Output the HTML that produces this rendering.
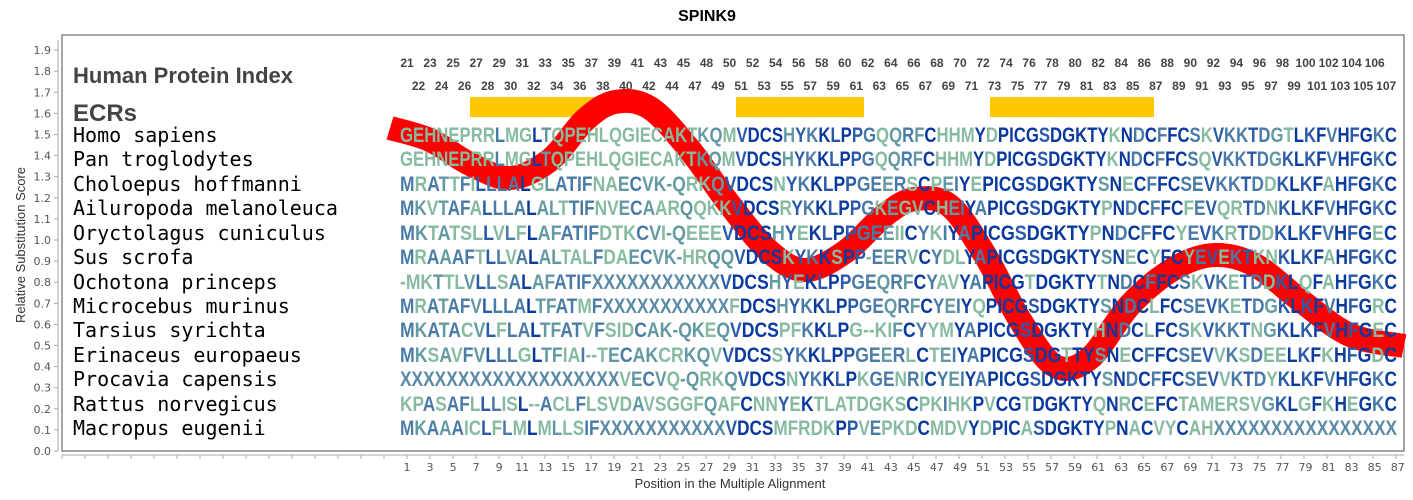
<!DOCTYPE html>
<html><head><meta charset="utf-8"><style>
body{margin:0;background:#fff}
svg{display:block}
.seq{font-family:"Liberation Sans",sans-serif;font-weight:bold;font-size:21px}
.sp{font-family:"DejaVu Sans Mono","Liberation Mono",monospace;font-size:20px;fill:#000}
.num{font-family:"Liberation Sans",sans-serif;font-weight:bold;font-size:12px;fill:#444}
.tk{font-family:"DejaVu Sans","Liberation Sans",sans-serif;font-size:11px;fill:#555}
</style></head><body>
<svg id="s" width="1413" height="500" xmlns="http://www.w3.org/2000/svg">
<rect width="1413" height="500" fill="#fff"/>
<text x="707" y="21" text-anchor="middle" font-family="Liberation Sans,sans-serif" font-weight="bold" font-size="16">SPINK9</text>
<rect x="62" y="35" width="1342" height="416" fill="#fff" stroke="#888" stroke-width="1.5"/>
<line x1="58" y1="40" x2="58" y2="451" stroke="#aaa"/>
<line x1="62" y1="455" x2="1404" y2="455" stroke="#aaa"/>
<g id="yt"></g><g id="xt"></g>
<text x="730" y="488" text-anchor="middle" font-family="Liberation Sans,sans-serif" font-size="13" fill="#333">Position in the Multiple Alignment</text>
<text transform="translate(25,245) rotate(-90)" text-anchor="middle" font-family="Liberation Sans,sans-serif" font-size="13" fill="#333">Relative Substitution Score</text>
<text x="73" y="83" font-family="Liberation Sans,sans-serif" font-weight="bold" font-size="22" fill="#444">Human Protein Index</text>
<text x="73" y="121" font-family="Liberation Sans,sans-serif" font-weight="bold" font-size="24" fill="#444">ECRs</text>
<rect x="470" y="97" width="128" height="20" fill="#ffc800"/>
<rect x="736" y="97" width="128" height="20" fill="#ffc800"/>
<rect x="990" y="97" width="164" height="20" fill="#ffc800"/>
<g id="nums"></g>
<path id="wave" fill="none" stroke="#f00" stroke-width="24" stroke-linecap="butt"/>
<g class="sp">
<text x="73" y="142">Homo sapiens</text>
<text x="73" y="166">Pan troglodytes</text>
<text x="73" y="191">Choloepus hoffmanni</text>
<text x="73" y="215">Ailuropoda melanoleuca</text>
<text x="73" y="240">Oryctolagus cuniculus</text>
<text x="73" y="264">Sus scrofa</text>
<text x="73" y="289">Ochotona princeps</text>
<text x="73" y="313">Microcebus murinus</text>
<text x="73" y="337">Tarsius syrichta</text>
<text x="73" y="362">Erinaceus europaeus</text>
<text x="73" y="386">Procavia capensis</text>
<text x="73" y="411">Rattus norvegicus</text>
<text x="73" y="435">Macropus eugenii</text>
</g>
<g id="seqs" class="seq">
<text x="400" y="142">GEHNEPRRLMGLTQPEHLQGIECAKTKQMVDCSHYKKLPPGQQRFCHHMYDPICGSDGKTYKNDCFFCSKVKKTDGTLKFVHFGKC</text>
<text x="400" y="166">GEHNEPRRLMGLTQPEHLQGIECAKTKQMVDCSHYKKLPPGQQRFCHHMYDPICGSDGKTYKNDCFFCSQVKKTDGKLKFVHFGKC</text>
<text x="400" y="191">MRATTFILLLALGLATIFNAECVK-QRKQVDCSNYKKLPPGEERSCPEIYEPICGSDGKTYSNECFFCSEVKKTDDKLKFAHFGKC</text>
<text x="400" y="215">MKVTAFALLLALALTTIFNVECAARQQKKVDCSRYKKLPPGKEGVCHEIYAPICGSDGKTYPNDCFFCFEVQRTDNKLKFVHFGKC</text>
<text x="400" y="240">MKTATSLLVLFLAFATIFDTKCVI-QEEEVDCSHYEKLPPGEEIICYKIYAPICGSDGKTYPNDCFFCYEVKRTDDKLKFVHFGEC</text>
<text x="400" y="264">MRAAAFTLLVALALTALFDAECVK-HRQQVDCSKYKKSPP-EERVCYDLYAPICGSDGKTYSNECYFCYEVEKTKNKLKFAHFGKC</text>
<text x="400" y="289">-MKTTLVLLSALAFATIFXXXXXXXXXXXVDCSHYEKLPPGEQRFCYAVYAPICGTDGKTYTNDCFFCSKVKETDDKLQFAHFGKC</text>
<text x="400" y="313">MRATAFVLLLALTFATMFXXXXXXXXXXXFDCSHYKKLPPGEQRFCYEIYQPICGSDGKTYSNDCLFCSEVKETDGKLKFVHFGRC</text>
<text x="400" y="337">MKATACVLFLALTFATVFSIDCAK-QKEQVDCSPFKKLPG--KIFCYYMYAPICGSDGKTYHNDCLFCSKVKKTNGKLKFVHFGEC</text>
<text x="400" y="362">MKSAVFVLLLGLTFIAI--TECAKCRKQVVDCSSYKKLPPGEERLCTEIYAPICGSDGTTYSNECFFCSEVVKSDEELKFKHFGDC</text>
<text x="400" y="386">XXXXXXXXXXXXXXXXXXXVECVQ-QRKQVDCSNYKKLPKGENRICYEIYAPICGSDGKTYSNDCFFCSEVVKTDYKLKFVHFGKC</text>
<text x="400" y="411">KPASAFLLLISL--ACLFLSVDAVSGGFQAFCNNYEKTLATDGKSCPKIHKPVCGTDGKTYQNRCEFCTAMERSVGKLGFKHEGKC</text>
<text x="400" y="435">MKAAAICLFLMLMLLSIFXXXXXXXXXXXVDCSMFRDKPPVEPKDCMDVYDPICASDGKTYPNACVYCAHXXXXXXXXXXXXXXXX</text>
</g>
</svg>
<script>
var NS="http://www.w3.org/2000/svg";
function el(t,a,txt){var e=document.createElementNS(NS,t);for(var k in a)e.setAttribute(k,a[k]);if(txt!=null)e.textContent=txt;return e;}
var yt=document.getElementById('yt');
for(var i=0;i<=19;i++){var y=451-i*21.1;
yt.appendChild(el('line',{x1:54,y1:y,x2:58,y2:y,stroke:'#aaa'}));
yt.appendChild(el('text',{x:51,y:y+4,'text-anchor':'end','class':'tk'},(i/10).toFixed(1)));}
var xt=document.getElementById('xt');
for(var x=62;x<=1404;x+=23){xt.appendChild(el('line',{x1:x,y1:455,x2:x,y2:459,stroke:'#aaa'}));}
for(var p=1;p<=87;p+=2){var xx=407+(p-1)*11.52;xt.appendChild(el('text',{x:xx,y:471,'text-anchor':'middle','class':'tk'},p));}
var r1=[],r2=[];
for(var n=21;n<=45;n+=2)r1.push(n);for(n=48;n<=106;n+=2)r1.push(n);
for(n=22;n<=44;n+=2)r2.push(n);for(n=47;n<=107;n+=2)r2.push(n);
var ng=document.getElementById('nums');
r1.forEach(function(v,i){ng.appendChild(el('text',{x:407+2*i*11.52,y:67,'text-anchor':'middle','class':'num'},v));});
r2.forEach(function(v,i){ng.appendChild(el('text',{x:407+(2*i+1)*11.52,y:90,'text-anchor':'middle','class':'num'},v));});
var rows=[].slice.call(document.querySelectorAll('#seqs text'));
var seqs=rows.map(function(t){return t.textContent;});
var L=seqs[0].length;
var cols=[];
for(var c=0;c<L;c++){var cnt={};seqs.forEach(function(s){var ch=s[c];cnt[ch]=(cnt[ch]||0)+1;});cols.push(cnt);}
rows.forEach(function(t,r){var s=seqs[r];t.textContent='';
for(var c=0;c<s.length;c++){var f=cols[c][s[c]]/seqs.length;
var col=f>0.9?'#0a3a9e':f>0.7?'#2a5aa8':f>0.45?'#4a7ba6':f>0.25?'#6399a2':'#86bba0';
if(s[c]=='X')col=f>0.5?'#2a5aa8':'#5a8aa6';
t.appendChild(el('tspan',{fill:col},s[c]));}
t.setAttribute('textLength','997');t.setAttribute('lengthAdjust','spacingAndGlyphs');});
var pts=[[390,128],[430,140],[470,164],[510,178],[550,160],[585,120],[615,102],[650,108],[690,150],[730,205],[770,252],[805,270],[845,252],[885,215],[915,199],[950,206],[985,255],[1020,320],[1055,366],[1090,358],[1130,305],[1175,268],[1215,255],[1255,265],[1300,300],[1350,335],[1404,346]];
var d='M'+pts[0][0]+','+pts[0][1];
for(var i=0;i<pts.length-1;i++){var p0=pts[Math.max(0,i-1)],p1=pts[i],p2=pts[i+1],p3=pts[Math.min(pts.length-1,i+2)];
d+=' C'+(p1[0]+(p2[0]-p0[0])/6)+','+(p1[1]+(p2[1]-p0[1])/6)+' '+(p2[0]-(p3[0]-p1[0])/6)+','+(p2[1]-(p3[1]-p1[1])/6)+' '+p2[0]+','+p2[1];}
document.getElementById('wave').setAttribute('d',d);
</script>
</body></html>
